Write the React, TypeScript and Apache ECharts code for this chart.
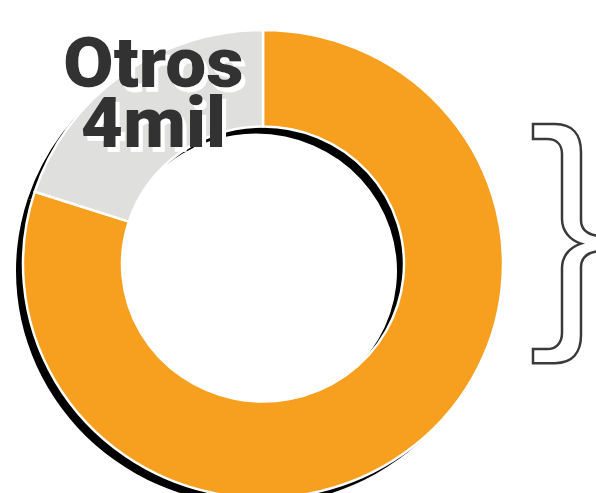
import React, { useEffect, useRef } from "react";
import * as echarts from "echarts";

const categories = ["Resto", "Otros"];
const values = [16, 4];
const valueUnit = "mil";
const sliceColors = ["#F79F1F", "#DFDFDE"];
const labelIndex = 1;

const SY = 0.975;
const BRACE_D =
  "M533 124 L555 124 C572 124 581 134 581 152 L581 220 C581 230 588 235 600 236 L600 251 C588 252 581 257 581 267 L581 335 C581 353 572 363 555 363 L533 363 L533 349 L547 349 C556 349 562 343 562 333 L562 268 C562 256 570 247 581 243.5 C570 240 562 231 562 219 L562 154 C562 144 556 139 547 139 L533 139 Z";

export default function App() {
  const ref = useRef<HTMLDivElement>(null);
  useEffect(() => {
    if (!ref.current) return;
    echarts.graphic.registerShape("brace", echarts.graphic.extendPath(BRACE_D, {}));
    const chart = echarts.init(ref.current, null, { renderer: "svg" });
    const data = categories.map((c, i) => ({ name: c, value: values[i] }));
    const label = `${categories[labelIndex]}\n${values[labelIndex]}${valueUnit}`;
    chart.setOption({
      animation: false,
      series: [
        {
          type: "pie",
          silent: true,
          z: 1,
          center: [256, 278],
          radius: [141, 240],
          startAngle: 90,
          label: { show: false },
          labelLine: { show: false },
          itemStyle: { color: "#000", borderWidth: 0 },
          data,
        },
        {
          type: "pie",
          silent: true,
          z: 2,
          center: [263, 270.8],
          radius: [141, 240],
          startAngle: 90,
          label: { show: false },
          labelLine: { show: false },
          itemStyle: { borderColor: "#fff", borderWidth: 2.5 },
          data: data.map((d, i) => ({ ...d, itemStyle: { color: sliceColors[i] } })),
        },
      ],
      graphic: [
        {
          type: "brace",
          x: 0,
          y: 0,
          scaleY: 1 / SY,
          z: 5,
          silent: true,
          style: { fill: "#fff", stroke: "#3a3a3a", lineWidth: 2.5 },
        },
        {
          type: "text",
          x: 153.5,
          y: 94.75,
          z: 10,
          silent: true,
          style: {
            text: label,
            fill: "#333333",
            fontFamily: "Roboto, 'Liberation Sans', sans-serif",
            fontWeight: 900,
            fontSize: 73,
            lineHeight: 61.5,
            align: "center",
            verticalAlign: "middle",
            textAlign: "center",
            textVerticalAlign: "middle",
            textShadowColor: "#ffffff",
            textShadowBlur: 0.4,
            textShadowOffsetX: 4,
            textShadowOffsetY: 5,
          },
        },
      ],
    });
    return () => chart.dispose();
  }, []);
  return (
    <div style={{ position: "fixed", left: 0, top: 0, width: 596, height: 493, overflow: "hidden", background: "#fff" }}>
      <div
        ref={ref}
        style={{ width: 596, height: 506, transform: `scaleY(${SY})`, transformOrigin: "0 0" }}
      />
    </div>
  );
}
